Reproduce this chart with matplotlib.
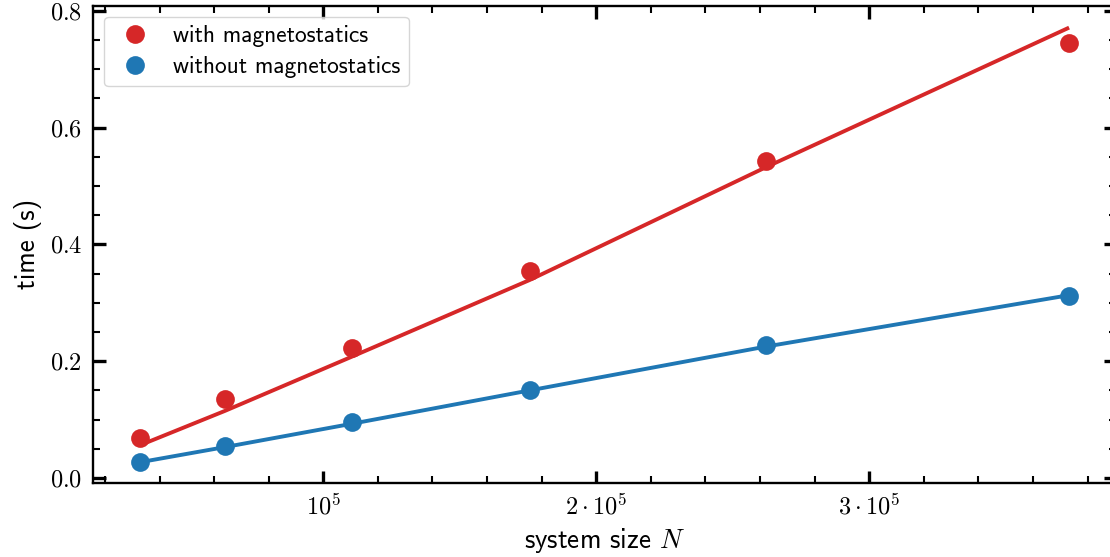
import matplotlib
matplotlib.use("Agg")
import matplotlib.pyplot as plt
from matplotlib.ticker import FixedLocator, MultipleLocator, FuncFormatter

# ---- data ----
N = [32768, 64000, 110592, 175616, 262144, 373248]
t_with = [0.0685, 0.135, 0.223, 0.355, 0.543, 0.744]
t_without = [0.028, 0.054, 0.096, 0.151, 0.227, 0.312]
fit_with = [0.056, 0.115, 0.208, 0.339, 0.532, 0.771]
fit_without = [0.027, 0.053, 0.093, 0.150, 0.225, 0.313]

x_ticks = [1e5, 2e5, 3e5]
x_ticklabels = [r"$10^5$", r"$2\cdot10^5$", r"$3\cdot10^5$"]
y_ticks = [0.0, 0.2, 0.4, 0.6, 0.8]
y_ticklabels = [r"$0.0$", r"$0.2$", r"$0.4$", r"$0.6$", r"$0.8$"]

label_with = "with magnetostatics"
label_without = "without magnetostatics"
xlabel = r"system size $N$"
ylabel = "time (s)"

red = "#d62728"
blue = "#1f77b4"

plt.rcParams["font.family"] = ["cmss10", "DejaVu Sans"]
plt.rcParams["mathtext.fontset"] = "cm"
plt.rcParams["axes.unicode_minus"] = False

fig = plt.figure(figsize=(11.1, 5.57), dpi=100)
ax = fig.add_axes([0.0841, 0.1334, 0.9209, 0.8558])

ax.plot(N, fit_with, color=red, lw=2.8, solid_capstyle="butt", zorder=2)
ax.plot(N, fit_without, color=blue, lw=2.8, solid_capstyle="butt", zorder=2)
ax.plot(N, t_with, "o", color=red, ms=13.5, mew=0, label=label_with, zorder=3)
ax.plot(N, t_without, "o", color=blue, ms=13.5, mew=0, label=label_without, zorder=3)

ax.set_xlim(15744, 390272)
ax.set_ylim(-0.008, 0.808)

ax.xaxis.set_major_locator(FixedLocator(x_ticks))
ax.xaxis.set_major_formatter(FuncFormatter(lambda v, p: x_ticklabels[x_ticks.index(v)] if v in x_ticks else ""))
ax.xaxis.set_minor_locator(MultipleLocator(2e4))
ax.yaxis.set_major_locator(FixedLocator(y_ticks))
ax.yaxis.set_major_formatter(FuncFormatter(lambda v, p: y_ticklabels[p] if p is not None and p < len(y_ticklabels) else ""))
ax.yaxis.set_minor_locator(MultipleLocator(0.05))

ax.tick_params(which="both", direction="in", top=True, right=True)
ax.tick_params(which="major", length=9, width=2.4, labelsize=17.5, pad=8)
ax.tick_params(which="minor", length=5, width=1.5)
for s in ax.spines.values():
    s.set_linewidth(1.7)

ax.set_xlabel(xlabel, fontsize=19.5, labelpad=5)
ax.set_ylabel(ylabel, fontsize=19.5, labelpad=6)

leg = ax.legend(loc="upper left", fontsize=16.8, frameon=True, fancybox=True,
                handletextpad=0.62, borderaxespad=0.45, labelspacing=0.4,
                borderpad=0.35)
leg.get_frame().set_edgecolor("#cccccc")

fig.savefig("out.png", dpi=100)
